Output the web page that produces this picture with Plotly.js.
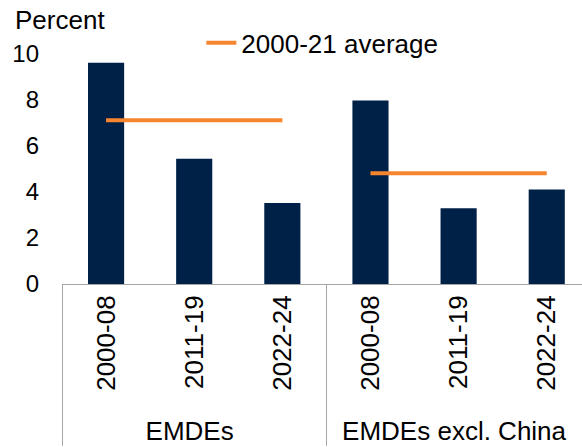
<!DOCTYPE html>
<html>
<head>
<meta charset="utf-8">
<script src="https://cdn.plot.ly/plotly-3.0.1.min.js"></script>
<style>html,body{margin:0;padding:0;background:#fff;}#chart{width:582px;height:447px;}</style>
</head>
<body>
<div id="chart"></div>
<script>
// Data
const groups = ["EMDEs", "EMDEs excl. China"];
const periods = ["2000-08", "2011-19", "2022-24"];
const growthEMDEs = [9.62, 5.45, 3.52];
const growthExChina = [7.98, 3.29, 4.11];
const avgEMDEs = 7.12;
const avgExChina = 4.81;
const legendLabel = "2000-21 average";
const yTitle = "Percent";

const barOuter = [], barInner = [], barVals = [];
periods.forEach((p, i) => { barOuter.push(groups[0]); barInner.push(p); barVals.push(growthEMDEs[i]); });
periods.forEach((p, i) => { barOuter.push(groups[1]); barInner.push(p); barVals.push(growthExChina[i]); });

const first = periods[0], last = periods[periods.length - 1];
const font = {family: "Liberation Sans, Arial, sans-serif", color: "#000"};

const traces = [
  {type: "bar", x: [barOuter, barInner], y: barVals, marker: {color: "#002147"}, showlegend: false, hoverinfo: "y"},
  {type: "scatter", mode: "lines", name: legendLabel, legendgroup: "avg",
   x: [[groups[0], groups[0]], [first, last]], y: [avgEMDEs, avgEMDEs],
   line: {color: "#F5852F", width: 4}},
  {type: "scatter", mode: "lines", name: legendLabel, legendgroup: "avg", showlegend: false,
   x: [[groups[1], groups[1]], [first, last]], y: [avgExChina, avgExChina],
   line: {color: "#F5852F", width: 4}}
];

const layout = {
  width: 582, height: 447,
  margin: {l: 62, r: 0, t: 54, b: 163},
  paper_bgcolor: "#fff", plot_bgcolor: "#fff",
  font: Object.assign({size: 26}, font),
  bargap: 0.59,
  showlegend: true,
  legend: {x: 0.268, xanchor: "left", y: 1.048, yanchor: "middle", bgcolor: "rgba(0,0,0,0)",
           font: Object.assign({size: 26}, font), itemwidth: 30},
  xaxis: {type: "multicategory", range: [-0.5, 5.4], tickangle: -90,
          showline: true, linecolor: "#a6a6a6", linewidth: 1,
          showdividers: true, dividercolor: "#a6a6a6", dividerwidth: 1,
          ticks: "", showgrid: false, zeroline: false,
          tickfont: Object.assign({size: 26}, font)},
  yaxis: {range: [0, 10], dtick: 2, showgrid: false, zeroline: false, showline: false,
          ticks: "", ticklabelstandoff: 22, tickfont: Object.assign({size: 24}, font)},
  annotations: [
    {text: yTitle, xref: "paper", yref: "paper", x: 0, y: 1, xanchor: "left", yanchor: "middle",
     xshift: -49, yshift: 34, showarrow: false, font: Object.assign({size: 26}, font)}
  ]
};

Plotly.newPlot("chart", traces, layout, {displayModeBar: false, staticPlot: true});
</script>
</body>
</html>
